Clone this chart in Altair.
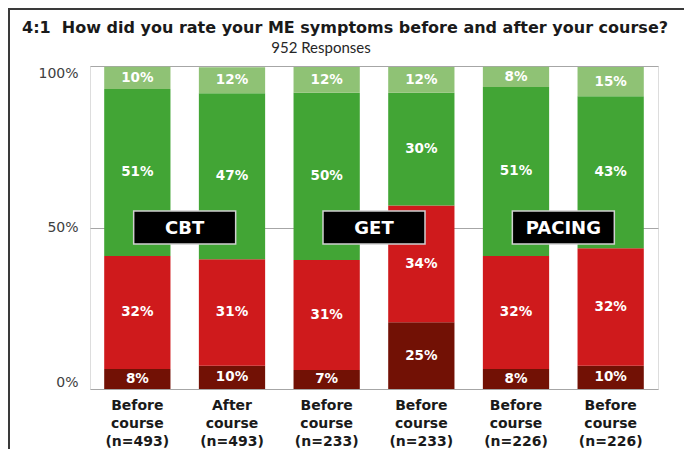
import json
import altair as alt
import pandas as pd

# ---- data ----
x_labels = ["Before course (n=493)", "After course (n=493)", "Before course (n=233)",
            "Before course (n=233)", "Before course (n=226)", "Before course (n=226)"]
segments = ["very bad", "bad", "good", "very good"]          # bottom -> top
seg_colors = ["#721105", "#CF1A1C", "#42A535", "#8FC275"]

# drawn segment heights (% of axis)
h_very_bad = [6.2, 7.2, 5.9, 20.7, 6.2, 7.2]
h_bad = [35.0, 33.0, 34.0, 36.1, 35.0, 36.4]
h_good = [51.7, 51.4, 51.8, 34.9, 52.3, 47.0]
h_very_good = [6.9, 8.0, 8.0, 8.0, 6.3, 9.1]

# printed labels
l_very_bad = [8, 10, 7, 25, 8, 10]
l_bad = [32, 31, 31, 34, 32, 32]
l_good = [51, 47, 50, 30, 51, 43]
l_very_good = [10, 12, 12, 12, 8, 15]

groups = ["CBT", "GET", "PACING"]
title_text = "4:1\u00a0 How did you rate your ME symptoms before and after your course?"
subtitle_text = "952 Responses"

# ---- build table ----
rows = []
for s_i, (seg, hs, ls) in enumerate(zip(segments,
                                         [h_very_bad, h_bad, h_good, h_very_good],
                                         [l_very_bad, l_bad, l_good, l_very_good])):
    for b_i in range(len(x_labels)):
        rows.append({"idx": b_i, "seg": seg, "order": s_i,
                     "value": hs[b_i], "label": f"{ls[b_i]}%"})
df = pd.DataFrame(rows)

W, H = 568, 323
PL, PT, PR, PB = 82, 58, 26, 60
FONT = "DejaVu Sans"

label_expr = f"split({json.dumps(x_labels)}[datum.value], ' ')"

base = alt.Chart(df).transform_stack(
    stack="value", groupby=["idx"], as_=["y0", "y1"],
    sort=[alt.SortField("order", order="ascending")]
).transform_calculate(mid="(datum.y0 + datum.y1) / 2")

x_scale = alt.Scale(paddingInner=0.3, paddingOuter=0.15)
x_axis = alt.Axis(title=None, labelExpr=label_expr, labelAngle=0,
                  ticks=False, domain=False, labelFont=FONT,
                  labelFontWeight="bold", labelFontSize=14,
                  labelLineHeight=18, labelPadding=9,
                  labelColor="#1a1a1a", labelBaseline="top")
x_enc = alt.X("idx:O", scale=x_scale, axis=x_axis)

bars = base.mark_bar().encode(
    x=x_enc,
    y=alt.Y("y0:Q", scale=alt.Scale(domain=[0, 100]),
            axis=alt.Axis(title=None, values=[0, 50, 100], labelExpr="datum.value + '%'",
                          labelFlush=True, ticks=False, domain=False, grid=True,
                          gridColor="#a6a6a6", gridWidth=1.2, labelFont=FONT,
                          labelFontSize=14, labelColor="#404040", labelPadding=12)),
    y2="y1:Q",
    color=alt.Color("seg:N", scale=alt.Scale(domain=segments, range=seg_colors), legend=None),
)

texts = base.mark_text(color="white", font=FONT, fontWeight="bold", fontSize=13.5,
                       baseline="middle").encode(
    x=x_enc, y=alt.Y("mid:Q"), text="label:N")

box_df = pd.DataFrame({"grp": groups})
box_path = "M-1,-0.3235H1V0.3235H-1Z"
box_x = alt.X("grp:N", scale=alt.Scale(domain=groups, paddingInner=0, paddingOuter=0), axis=None)
boxes = alt.Chart(box_df).mark_point(shape=box_path, size=102 * 102, filled=True,
                                     fill="black", stroke="#d0d0d0", strokeWidth=1.5,
                                     opacity=1).encode(x=box_x, y=alt.datum(50))
box_text = alt.Chart(box_df).mark_text(color="white", font=FONT, fontWeight="bold",
                                       fontSize=18, baseline="middle", dy=1).encode(
    x=box_x, y=alt.datum(50), text="grp:N")

one = pd.DataFrame({"t": [title_text], "s": [subtitle_text]})
frame = alt.Chart(one).mark_rect(fill=None, stroke="#3a3a3a", strokeWidth=2).encode(
    x=alt.value(-PL + 1), y=alt.value(-PT + 1), x2=alt.value(W + 300), y2=alt.value(H + 300))
title = alt.Chart(one).mark_text(font=FONT, fontWeight="bold", fontSize=16, align="left",
                                 baseline="alphabetic", color="#1a1a1a").encode(
    x=alt.value(-68), y=alt.value(-33), text="t:N")
subtitle = alt.Chart(one).mark_text(font="Lato", fontSize=15, align="center",
                                    baseline="alphabetic", color="#262626").encode(
    x=alt.value(231), y=alt.value(-13), text="s:N")

chart = alt.layer(
    alt.layer(bars, texts),
    alt.layer(boxes, box_text),
    frame, title, subtitle
).resolve_scale(
    x="independent"
).properties(
    width=W, height=H,
    autosize=alt.AutoSizeParams(type="none"),
    padding={"left": PL, "top": PT, "right": PR, "bottom": PB},
).configure_view(stroke="#b4b4b4", strokeWidth=1.2).configure(background="white")

chart.save("out.html", embed_options={"renderer": "svg", "actions": False})
